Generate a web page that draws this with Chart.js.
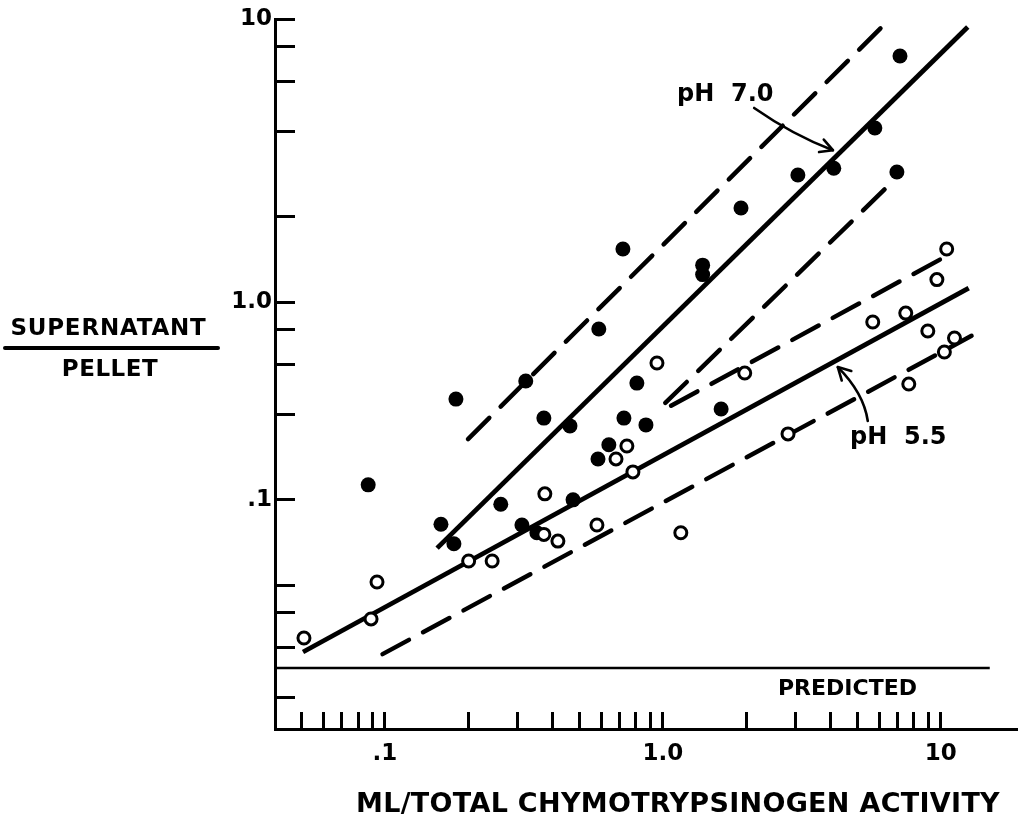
<!DOCTYPE html>
<html>
<head>
<meta charset="utf-8">
<script src="https://cdn.jsdelivr.net/npm/chart.js@4.4.1/dist/chart.umd.min.js"></script>
<style>
  html, body { margin: 0; padding: 0; background: #fff; }
  #lienzo { position: relative; width: 1019px; height: 831px; font-family: 'DejaVu Sans', sans-serif; font-weight: bold; color: #000; }
  #lienzo canvas { position: absolute; left: 0; top: 0; }
  .txt { position: absolute; white-space: pre; line-height: 1; }
  .raya { position: absolute; background: #000; border-radius: 2px; }
</style>
</head>
<body>
<div id="lienzo">
  <canvas id="grafico" width="1019" height="831"></canvas>
  <!-- titulo eje Y en forma de fraccion -->
  <div class="txt" style="left:0; width:217px; text-align:center; top:316px; font-size:23px; letter-spacing:0.8px;">SUPERNATANT</div>
  <div class="raya" style="left:3px; top:346px; width:217px; height:3.5px;"></div>
  <div class="txt" style="left:0; width:220px; text-align:center; top:357px; font-size:23px; letter-spacing:0.5px;">PELLET</div>
  <!-- titulo eje X -->
  <div class="txt" style="left:678px; transform:translateX(-50%); top:789px; font-size:27px; letter-spacing:0.3px;">ML/TOTAL CHYMOTRYPSINOGEN ACTIVITY</div>
  <!-- anotaciones -->
  <div class="txt" style="left:677px; top:81px; font-size:24px;">pH  7.0</div>
  <div class="txt" style="left:850px; top:424px; font-size:24px;">pH  5.5</div>
  <div class="txt" style="left:778px; top:677px; font-size:22px;">PREDICTED</div>
</div>
<script>
// ---------------- Datos ----------------
// pH 7.0 (circulos rellenos)
const ph70X = [0.087, 0.159, 0.177, 0.180, 0.261, 0.311, 0.352, 0.321, 0.373, 0.463, 0.475, 0.584, 0.588, 0.639,
               0.718, 0.724, 0.806, 0.869, 1.39, 1.39, 1.62, 1.91, 3.06, 4.12, 5.79, 6.95, 7.13];
const ph70Y = [0.226, 0.164, 0.140, 0.454, 0.193, 0.163, 0.153, 0.526, 0.389, 0.365, 0.200, 0.279, 0.803, 0.313,
               1.54, 0.389, 0.517, 0.368, 1.35, 1.25, 0.419, 2.15, 2.81, 2.97, 4.12, 2.88, 7.40];

// pH 5.5 (circulos abiertos)
const ph55X = [0.0511, 0.0891, 0.0936, 0.200, 0.243, 0.376, 0.373, 0.419, 0.579, 0.678, 0.742, 0.780,
               0.952, 1.16, 1.97, 2.82, 5.69, 7.48, 7.67, 8.98, 9.68, 10.3, 10.5, 11.2];
const ph55Y = [0.065, 0.0759, 0.1025, 0.1216, 0.1216, 0.210, 0.151, 0.143, 0.163, 0.279, 0.310, 0.251,
               0.609, 0.153, 0.561, 0.342, 0.850, 0.914, 0.513, 0.790, 1.20, 0.666, 1.54, 0.746];

// rectas de ajuste y sus limites (extremos)
const ajuste70X = [0.154, 12.5],  ajuste70Y = [0.135, 9.37];
const sup70X = [0.199, 6.29],     sup70Y = [0.328, 9.6];
const inf70X = [1.02, 6.7],       inf70Y = [0.44, 2.66];
const ajuste55X = [0.0507, 12.6], ajuste55Y = [0.058, 1.12];
const sup55X = [1.07, 10.3],      sup55Y = [0.43, 1.44];
const inf55X = [0.098, 12.9],     inf55Y = [0.057, 0.76];
const prediccionX = [0.0402, 15], prediccionY = [0.0509, 0.0509];

// marcas de los ejes
const xTicks = [0.05, 0.06, 0.07, 0.08, 0.09, 0.1, 0.2, 0.3, 0.4, 0.5, 0.6, 0.7, 0.8, 0.9,
                1, 2, 3, 4, 5, 6, 7, 8, 9, 10];
const xTickLabels = ['', '', '', '', '', '.1', '', '', '', '', '', '', '', '',
                     '1.0', '', '', '', '', '', '', '', '', '10'];
const yTicks = [10, 8, 6, 4, 2, 1, 0.8, 0.6, 0.4, 0.2, 0.1, 0.08, 0.06, 0.04];
const yTickLabels = ['10', '', '', '', '', '1.0', '', '', '', '.1', '', '', '', ''];

// flechas de las anotaciones (en unidades de los ejes)
const flechas = [
    { desde: [2.13, 4.85], control: [2.94, 3.89], hasta: [4.09, 3.44] },
    { desde: [5.46, 0.380], control: [5.28, 0.477], hasta: [4.26, 0.589] }
];

const pares = (xs, ys) => xs.map((v, i) => ({ x: v, y: ys[i] }));

function recta(xs, ys, discontinua, ancho) {
    return {
        data: pares(xs, ys),
        showLine: true,
        borderColor: '#000',
        borderWidth: ancho,
        borderDash: discontinua ? [30, 16] : [],
        borderCapStyle: discontinua ? 'round' : 'butt',
        pointRadius: 0,
        pointHoverRadius: 0
    };
}

// Plugin para dibujar las flechas curvas
const pluginFlechas = {
    id: 'flechas',
    afterDatasetsDraw(chart) {
        const { ctx, scales: { x, y } } = chart;
        ctx.save();
        ctx.strokeStyle = '#000';
        ctx.lineWidth = 2.6;
        ctx.lineCap = 'round';
        ctx.lineJoin = 'round';
        flechas.forEach((f) => {
            const x0 = x.getPixelForValue(f.desde[0]), y0 = y.getPixelForValue(f.desde[1]);
            const xc = x.getPixelForValue(f.control[0]), yc = y.getPixelForValue(f.control[1]);
            const x1 = x.getPixelForValue(f.hasta[0]), y1 = y.getPixelForValue(f.hasta[1]);
            ctx.beginPath();
            ctx.moveTo(x0, y0);
            ctx.quadraticCurveTo(xc, yc, x1, y1);
            ctx.stroke();
            const ang = Math.atan2(y1 - yc, x1 - xc);
            const largo = 14;
            ctx.beginPath();
            ctx.moveTo(x1 - largo * Math.cos(ang - 0.5), y1 - largo * Math.sin(ang - 0.5));
            ctx.lineTo(x1, y1);
            ctx.lineTo(x1 - largo * Math.cos(ang + 0.5), y1 - largo * Math.sin(ang + 0.5));
            ctx.stroke();
        });
        ctx.restore();
    }
};

Chart.defaults.font.family = "'DejaVu Sans', sans-serif";
Chart.defaults.color = '#000';

// sin relleno extra de las etiquetas: el area del grafico queda fija
function fijarAncho(scale) {
    scale.width = 275;
    scale.paddingTop = 0; scale.paddingBottom = 0; scale.paddingLeft = 0; scale.paddingRight = 0;
}
function fijarAlto(scale) {
    scale.height = 102;
    scale.paddingTop = 0; scale.paddingBottom = 0; scale.paddingLeft = 0; scale.paddingRight = 0;
}

new Chart(document.getElementById('grafico'), {
    type: 'scatter',
    data: {
        datasets: [
            {
                data: pares(ph55X, ph55Y),
                pointRadius: 6,
                pointBorderWidth: 3,
                backgroundColor: '#fff',
                borderColor: '#000'
            },
            {
                data: pares(ph70X, ph70Y),
                pointRadius: 7.5,
                pointBorderWidth: 0,
                backgroundColor: '#000',
                borderColor: '#000'
            },
            recta(ajuste70X, ajuste70Y, false, 4.8),
            recta(sup70X, sup70Y, true, 4.5),
            recta(inf70X, inf70Y, true, 4.5),
            recta(ajuste55X, ajuste55Y, false, 4.8),
            recta(sup55X, sup55Y, true, 4.5),
            recta(inf55X, inf55Y, true, 4.5),
            recta(prediccionX, prediccionY, false, 2.6)
        ]
    },
    options: {
        responsive: false,
        animation: false,
        devicePixelRatio: 1,
        layout: { autoPadding: false, padding: { top: 19, right: 2, left: 0, bottom: 0 } },
        plugins: { legend: { display: false }, tooltip: { enabled: false } },
        scales: {
            x: {
                type: 'logarithmic',
                min: 0.0402,
                max: 18.8,
                afterBuildTicks: (scale) => { scale.ticks = xTicks.map(v => ({ value: v })); },
                afterFit: fijarAlto,
                border: { display: true, color: '#000', width: 3 },
                grid: { display: true, drawOnChartArea: false, drawTicks: true, tickLength: -17, tickWidth: 3, tickColor: '#000' },
                ticks: {
                    autoSkip: false, maxRotation: 0, minRotation: 0, padding: 28,
                    font: { size: 23, weight: 'bold' },
                    callback: (v, i) => xTickLabels[i]
                }
            },
            y: {
                type: 'logarithmic',
                min: 0.031,
                max: 10,
                afterBuildTicks: (scale) => { scale.ticks = yTicks.map(v => ({ value: v })); },
                afterFit: fijarAncho,
                border: { display: true, color: '#000', width: 3 },
                grid: { display: true, drawOnChartArea: false, drawTicks: true, tickLength: -20, tickWidth: 3, tickColor: '#000' },
                ticks: {
                    autoSkip: false, padding: 23,
                    font: { size: 23, weight: 'bold' },
                    callback: (v, i) => yTickLabels[i]
                }
            }
        }
    },
    plugins: [pluginFlechas]
});
</script>
</body>
</html>
